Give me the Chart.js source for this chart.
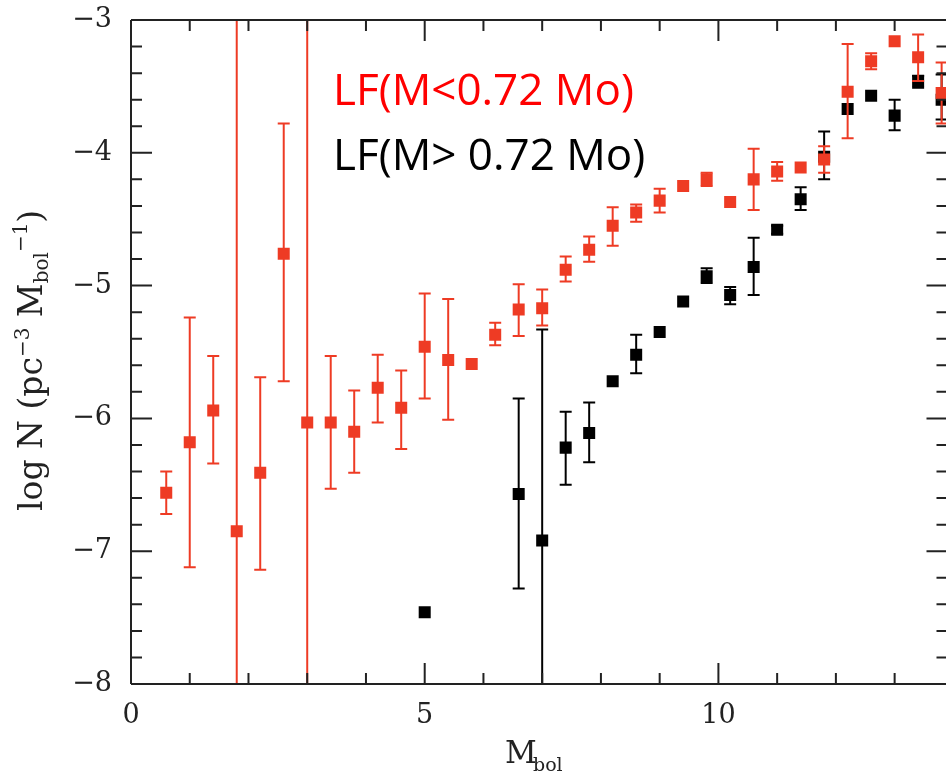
<!DOCTYPE html>
<html>
<head>
<meta charset="utf-8">
<script src="https://cdn.jsdelivr.net/npm/chart.js@4.4.0/dist/chart.umd.min.js"></script>
<style>
  html, body { margin: 0; padding: 0; background: #fff; overflow: hidden; }
  #wrap { width: 956px; height: 776px; }
</style>
</head>
<body>
<div id="wrap"><canvas id="lf"></canvas></div>
<script>
// luminosity function, low-mass sample
const mbolLow = [0.6, 1.0, 1.4, 1.8, 2.2, 2.6, 3.0, 3.4, 3.8, 4.2, 4.6, 5.0, 5.4, 5.8, 6.2, 6.6, 7.0,
                 7.4, 7.8, 8.2, 8.6, 9.0, 9.4, 9.8, 10.2, 10.6, 11.0, 11.4, 11.8, 12.2, 12.6, 13.0, 13.4, 13.8];
const logNLow = [-6.56, -6.18, -5.94, -6.85, -6.41, -4.76, -6.03, -6.03, -6.10, -5.77, -5.92, -5.46, -5.56, -5.59, -5.37, -5.18, -5.17,
                 -4.88, -4.73, -4.55, -4.45, -4.36, -4.25, -4.20, -4.37, -4.20, -4.14, -4.11, -4.05, -3.54, -3.31, -3.16, -3.28, -3.55];
const errHiLow = [-6.40, -5.24, -5.53, -2.5, -5.69, -3.78, -2.5, -5.53, -5.79, -5.52, -5.64, -5.06, -5.10, null, -5.28, -4.99, -5.03,
                  -4.78, -4.63, -4.41, -4.39, -4.27, null, -4.15, null, -3.97, -4.07, null, -3.95, -3.18, -3.25, null, -3.11, -3.32];
const errLoLow = [-6.72, -7.12, -6.34, -9.0, -7.14, -5.72, -9.0, -6.53, -6.41, -6.03, -6.23, -5.85, -6.01, null, -5.45, -5.38, -5.30,
                  -4.97, -4.82, -4.70, -4.52, -4.45, null, -4.25, null, -4.43, -4.21, null, -4.15, -3.89, -3.37, null, -3.46, -3.78];

// high-mass sample
const mbolHigh = [5.0, 6.6, 7.0, 7.4, 7.8, 8.2, 8.6, 9.0, 9.4, 9.8, 10.2, 10.6, 11.0, 11.4, 11.8, 12.2, 12.6, 13.0, 13.4, 13.8];
const logNHigh = [-7.46, -6.57, -6.92, -6.22, -6.11, -5.72, -5.52, -5.35, -5.12, -4.93, -5.07, -4.86, -4.58, -4.35, -4.03, -3.67, -3.57, -3.72, -3.46, -3.60];
const errHiHigh = [null, -5.85, -5.33, -5.95, -5.88, null, -5.37, null, null, -4.87, -5.01, -4.64, -4.55, -4.26, -3.84, null, null, -3.60, -3.42, -3.41];
const errLoHigh = [null, -7.28, -9.0, -6.50, -6.33, null, -5.66, null, null, -4.98, -5.14, -5.07, -4.61, -4.43, -4.20, null, null, -3.83, -3.51, -3.75];

const seriesLabels = ['LF(M<0.72 Mo)', 'LF(M> 0.72 Mo)'];
const xTickLabels = [0, 5, 10];
const yTickLabels = [-3, -4, -5, -6, -7, -8];

const RED = '#ee3b24';
const SERIF = '"DejaVu Serif", serif';

function pts(xs, ys) {
  return xs.map((x, i) => ({ x: x, y: ys[i] }));
}

// vertical error bars, drawn just before each dataset's squares
const errorBars = {
  id: 'errorBars',
  beforeDatasetDraw(chart, args) {
    const ds = chart.data.datasets[args.index];
    if (!ds.errHi) return;
    const { ctx, chartArea: a, scales: { x, y } } = chart;
    ctx.save();
    ctx.beginPath();
    ctx.rect(a.left, a.top, a.right - a.left, a.bottom - a.top);
    ctx.clip();
    ctx.strokeStyle = ds.backgroundColor;
    ctx.lineWidth = 2;
    ds.data.forEach((p, i) => {
      const hi = ds.errHi[i], lo = ds.errLo[i];
      if (hi === null) return;
      const px = x.getPixelForValue(p.x);
      const yh = y.getPixelForValue(hi), yl = y.getPixelForValue(lo);
      ctx.beginPath();
      ctx.moveTo(px, yh); ctx.lineTo(px, yl);
      ctx.moveTo(px - 6, yh); ctx.lineTo(px + 6, yh);
      ctx.moveTo(px - 6, yl); ctx.lineTo(px + 6, yl);
      ctx.stroke();
    });
    ctx.restore();
  }
};

// frame with inward ticks on all sides, axis titles, series captions
const frame = {
  id: 'frame',
  afterDraw(chart) {
    const { ctx, chartArea: a, scales: { x, y } } = chart;
    ctx.save();
    ctx.strokeStyle = '#222';
    ctx.lineWidth = 2;
    ctx.beginPath();
    ctx.moveTo(a.left, a.top); ctx.lineTo(a.right + 2, a.top);
    ctx.moveTo(a.left, a.top); ctx.lineTo(a.left, a.bottom);
    ctx.moveTo(a.left, a.bottom); ctx.lineTo(a.right + 2, a.bottom);
    x.ticks.forEach(t => {
      const px = x.getPixelForValue(t.value);
      const len = t.value % 5 === 0 ? 21 : 11;
      ctx.moveTo(px, a.bottom); ctx.lineTo(px, a.bottom - len);
      ctx.moveTo(px, a.top); ctx.lineTo(px, a.top + len);
    });
    y.ticks.forEach(t => {
      const py = y.getPixelForValue(t.value);
      const len = Math.abs(t.value - Math.round(t.value)) < 1e-6 ? 21 : 11;
      ctx.moveTo(a.left, py); ctx.lineTo(a.left + len, py);
      ctx.moveTo(a.right, py); ctx.lineTo(a.right - len, py);
    });
    ctx.stroke();

    // x title: M_bol
    ctx.fillStyle = '#222';
    ctx.textBaseline = 'alphabetic';
    ctx.textAlign = 'left';
    ctx.font = '31px ' + SERIF;
    ctx.fillText('M', 505, 763);
    ctx.font = '19px ' + SERIF;
    ctx.fillText('bol', 533, 771);

    // y title: log N (pc^-3 M_bol^-1)
    ctx.translate(42, 511);
    ctx.rotate(-Math.PI / 2);
    let cx = 0;
    const part = (txt, size, dy) => {
      ctx.font = size + 'px ' + SERIF;
      ctx.fillText(txt, cx, dy);
      cx += ctx.measureText(txt).width;
    };
    part('log N (pc', 33, 0);
    part('\u22123', 20, -13);
    part(' M', 33, 0);
    part('bol', 20, 6);
    part('\u22121', 20, -15);
    part(')', 33, 0);
    ctx.setTransform(1, 0, 0, 1, 0, 0);

    // series captions
    ctx.font = '44px "Open Sans", sans-serif';
    ctx.fillStyle = '#ff0000';
    ctx.fillText(chart.data.datasets[0].label, 333, 105);
    ctx.fillStyle = '#000000';
    ctx.fillText(chart.data.datasets[1].label, 333, 170);
    ctx.restore();
  }
};

new Chart(document.getElementById('lf'), {
  type: 'scatter',
  data: {
    datasets: [{
      label: seriesLabels[0],
      data: pts(mbolLow, logNLow),
      errHi: errHiLow,
      errLo: errLoLow,
      backgroundColor: RED,
      borderColor: RED,
      pointStyle: 'rect',
      pointRadius: 8.5,
      borderWidth: 0
    }, {
      label: seriesLabels[1],
      data: pts(mbolHigh, logNHigh),
      errHi: errHiHigh,
      errLo: errLoHigh,
      backgroundColor: '#000000',
      borderColor: '#000000',
      pointStyle: 'rect',
      pointRadius: 8.5,
      borderWidth: 0
    }]
  },
  options: {
    responsive: true,
    maintainAspectRatio: false,
    devicePixelRatio: 1,
    animation: false,
    layout: { padding: { top: 5, right: 0, left: 0, bottom: 0 } },
    plugins: {
      legend: { display: false },
      tooltip: { enabled: false }
    },
    scales: {
      x: {
        type: 'linear',
        min: 0,
        max: 13.9,
        grid: { display: false, drawTicks: false },
        border: { display: false },
        afterFit(scale) { scale.height = 92; },
        ticks: {
          stepSize: 1,
          includeBounds: false,
          autoSkip: false,
          maxRotation: 0,
          padding: 16,
          color: '#222',
          font: { family: SERIF, size: 27 },
          callback: v => xTickLabels.includes(v) ? String(v) : ''
        }
      },
      y: {
        type: 'linear',
        min: -8,
        max: -3,
        grid: { display: false, drawTicks: false },
        border: { display: false },
        afterFit(scale) { scale.width = 131; },
        ticks: {
          stepSize: 0.2,
          includeBounds: false,
          autoSkip: false,
          padding: 19,
          color: '#222',
          // tight line height keeps the top label from pushing the plot down
          font: { family: SERIF, size: 27, lineHeight: 0.075 },
          callback: v => {
            const r = Math.round(v);
            return Math.abs(v - r) < 1e-6 && yTickLabels.includes(r) ? '\u2212' + Math.abs(r) : '';
          }
        }
      }
    }
  },
  plugins: [errorBars, frame]
});
</script>
</body>
</html>
